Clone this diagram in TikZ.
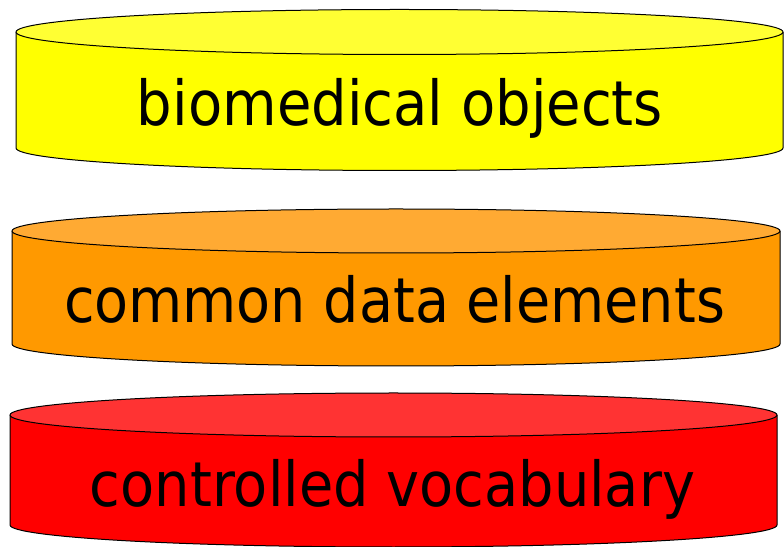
\documentclass[tikz,border=0pt]{standalone}
\usepackage{fontspec}
\usepackage{graphicx}
\setmainfont{DejaVu Sans}
\definecolor{yelside}{HTML}{FFFF00}
\definecolor{yeltop}{HTML}{FFFF33}
\definecolor{orside}{HTML}{FF9900}
\definecolor{ortop}{HTML}{FFAA33}
\definecolor{redside}{HTML}{FF0000}
\definecolor{redtop}{HTML}{FF3333}
\tikzset{
  rim/.style={draw=black, line width=1pt, line join=round},
  layerlabel/.style={anchor=base, inner sep=0pt, font=\fontsize{62}{70}\selectfont}
}
% #1 centre x, #2 top-ellipse y, #3 bottom-ellipse y, #4 x radius, #5 y radius,
% #6 side colour, #7 top colour
\newcommand\layerdisk[7]{%
  \fill[#6] (#1-#4,#2) -- (#1-#4,#3)
    arc[start angle=180, end angle=360, x radius=#4pt, y radius=#5pt]
    -- (#1+#4,#2) -- cycle;
  \draw[rim] (#1-#4,#2) -- (#1-#4,#3)
    arc[start angle=180, end angle=360, x radius=#4pt, y radius=#5pt]
    -- (#1+#4,#2);
  \draw[rim, fill=#7] (#1,#2) ellipse[x radius=#4pt, y radius=#5pt];
}
\begin{document}
\begin{tikzpicture}[x=1pt, y=1pt]
  \useasboundingbox (0,0) rectangle (784,546);
  \begin{scope}
    \clip (0,0) rectangle (784,546);
    % top layer
    \layerdisk{399.5}{514}{398}{383.5}{22.5}{yelside}{yeltop}
    \node[layerlabel] (bio) at (400,420) {\resizebox{526pt}{\height}{biomedical objects}};
    % middle layer
    \layerdisk{396}{315}{202}{384}{22}{orside}{ortop}
    \node[layerlabel] (cde) at (394.5,223) {\resizebox{661pt}{\height}{common data elements}};
    % bottom layer
    \layerdisk{393.5}{131}{21}{383.5}{22}{redside}{redtop}
    \node[layerlabel] (cv) at (392.5,39) {\resizebox{605pt}{\height}{controlled vocabulary}};
  \end{scope}
\end{tikzpicture}
\end{document}
